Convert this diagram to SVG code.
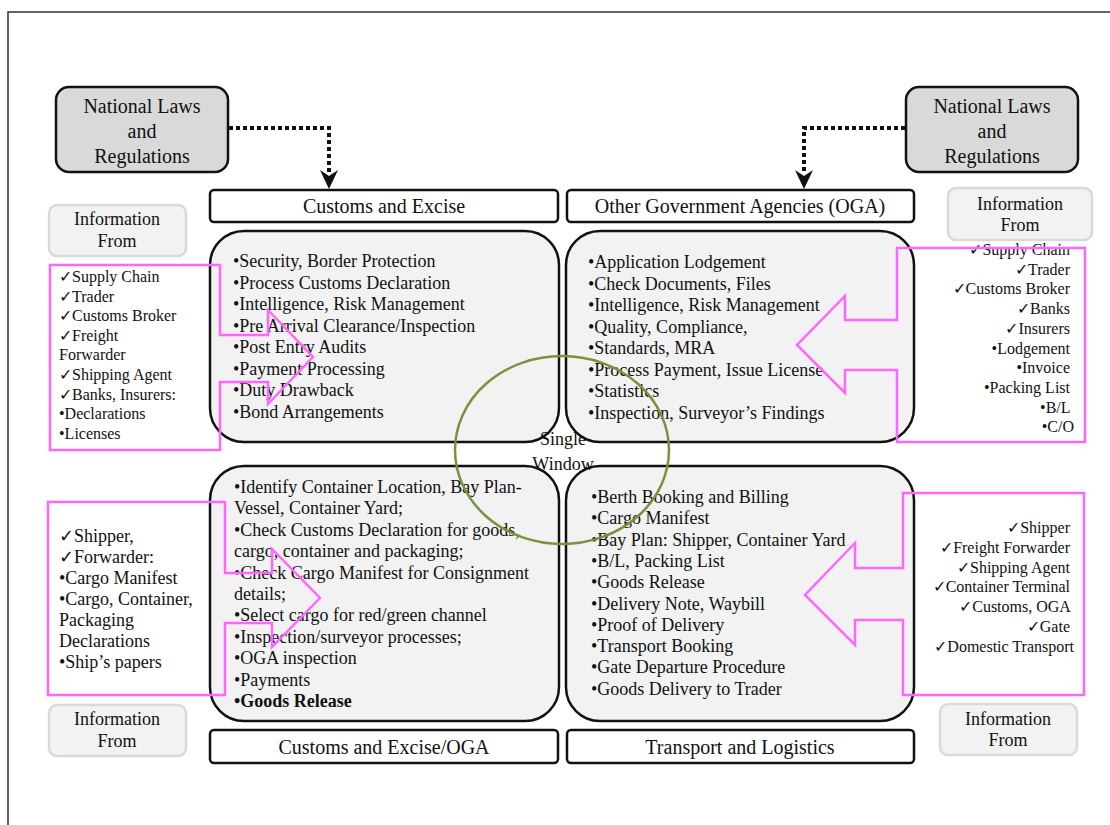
<svg xmlns="http://www.w3.org/2000/svg" width="1110" height="825" viewBox="0 0 1110 825" font-family="'Liberation Serif', 'DejaVu Serif', serif">
  <style>
    text { font-family: 'Liberation Serif', 'DejaVu Serif', serif; fill: #111; }
    .law { fill: #d9d9d9; stroke: #111; stroke-width: 2.5; }
    .head { fill: #fff; stroke: #111; stroke-width: 2.5; }
    .quad { fill: #f2f2f2; stroke: #111; stroke-width: 2.5; }
    .info { fill: #f2f2f2; stroke: #d9d9d9; stroke-width: 2.5; }
    .flow { fill: none; stroke: #ff66ff; stroke-width: 2.5; }
    .dots { fill: none; stroke: #111; stroke-width: 4; stroke-dasharray: 4 3; }
    .tip { fill: #111; }
    .t20 { font-size: 20px; text-anchor: middle; }
    .t18 { font-size: 18px; }
    .t16 { font-size: 16px; }
    .mid { text-anchor: middle; }
    .end { text-anchor: end; }
    .sw { fill: none; stroke: #77933c; stroke-width: 2.5; }
  </style>

  <!-- page frame -->
  <path d="M8,825 V12 H1110" fill="none" stroke="#333" stroke-width="1.5"/>

  <!-- laws -->
  <g id="laws-left">
    <rect class="law" x="56" y="87" width="172" height="85" rx="13"/>
    <text class="t20" x="142" y="113">National Laws</text>
    <text class="t20" x="142" y="138">and</text>
    <text class="t20" x="142" y="163">Regulations</text>
  </g>
  <g id="laws-right">
    <rect class="law" x="906" y="87" width="172" height="85" rx="13"/>
    <text class="t20" x="992" y="113">National Laws</text>
    <text class="t20" x="992" y="138">and</text>
    <text class="t20" x="992" y="163">Regulations</text>
  </g>

  <!-- headers -->
  <g id="hdr-customs">
    <rect class="head" x="210" y="190" width="348" height="32" rx="4"/>
    <text class="t20" x="384" y="213">Customs and Excise</text>
  </g>
  <g id="hdr-oga">
    <rect class="head" x="567" y="190" width="347" height="32" rx="4"/>
    <text class="t20" x="740" y="213">Other Government Agencies (OGA)</text>
  </g>
  <g id="hdr-customs-oga">
    <rect class="head" x="210" y="730" width="348" height="33" rx="4"/>
    <text class="t20" x="384" y="754">Customs and Excise/OGA</text>
  </g>
  <g id="hdr-transport">
    <rect class="head" x="567" y="730" width="347" height="33" rx="4"/>
    <text class="t20" x="740" y="754">Transport and Logistics</text>
  </g>

  <!-- information source labels -->
  <g id="info-tl">
    <rect class="info" x="49" y="205" width="137" height="51" rx="8"/>
    <text class="t18 mid" x="117" y="225">Information</text>
    <text class="t18 mid" x="117" y="247">From</text>
  </g>
  <g id="info-tr">
    <rect class="info" x="948" y="188" width="144" height="52" rx="8"/>
    <text class="t18 mid" x="1020" y="210">Information</text>
    <text class="t18 mid" x="1020" y="231">From</text>
  </g>
  <g id="info-bl">
    <rect class="info" x="49" y="705" width="137" height="51" rx="8"/>
    <text class="t18 mid" x="117" y="725">Information</text>
    <text class="t18 mid" x="117" y="747">From</text>
  </g>
  <g id="info-br">
    <rect class="info" x="940" y="704" width="137" height="51" rx="8"/>
    <text class="t18 mid" x="1008" y="725">Information</text>
    <text class="t18 mid" x="1008" y="746">From</text>
  </g>

  <!-- quadrant: customs and excise -->
  <g id="quad-customs">
    <rect class="quad" x="210" y="231" width="349" height="211" rx="34"/>
    <text class="t18">
      <tspan x="233" y="267">•Security, Border Protection</tspan>
      <tspan x="233" y="288.5">•Process Customs Declaration</tspan>
      <tspan x="233" y="310">•Intelligence, Risk Management</tspan>
      <tspan x="233" y="331.5">•Pre Arrival Clearance/Inspection</tspan>
      <tspan x="233" y="353">•Post Entry Audits</tspan>
      <tspan x="233" y="374.5">•Payment Processing</tspan>
      <tspan x="233" y="396">•Duty Drawback</tspan>
      <tspan x="233" y="417.5">•Bond Arrangements</tspan>
    </text>
  </g>

  <!-- quadrant: other government agencies -->
  <g id="quad-oga">
    <rect class="quad" x="566" y="231" width="348" height="211" rx="34"/>
    <text class="t18">
      <tspan x="588" y="268">•Application Lodgement</tspan>
      <tspan x="588" y="289.5">•Check Documents, Files</tspan>
      <tspan x="588" y="311">•Intelligence, Risk Management</tspan>
      <tspan x="588" y="332.5">•Quality, Compliance,</tspan>
      <tspan x="588" y="354">•Standards, MRA</tspan>
      <tspan x="588" y="375.5">•Process Payment, Issue License</tspan>
      <tspan x="588" y="397">•Statistics</tspan>
      <tspan x="588" y="418.5">•Inspection, Surveyor’s Findings</tspan>
    </text>
  </g>

  <!-- quadrant: customs and excise / OGA -->
  <g id="quad-customs-oga">
    <rect class="quad" x="210" y="466" width="349" height="255" rx="34"/>
    <text class="t18">
      <tspan x="234" y="493">•Identify Container Location, Bay Plan-</tspan>
      <tspan x="234" y="514.4">Vessel, Container Yard;</tspan>
      <tspan x="234" y="535.8">•Check Customs Declaration for goods,</tspan>
      <tspan x="234" y="557.2">cargo, container and packaging;</tspan>
      <tspan x="234" y="578.6">•Check Cargo Manifest for Consignment</tspan>
      <tspan x="234" y="600">details;</tspan>
      <tspan x="234" y="621.4">•Select cargo for red/green channel</tspan>
      <tspan x="234" y="642.8">•Inspection/surveyor processes;</tspan>
      <tspan x="234" y="664.2">•OGA inspection</tspan>
      <tspan x="234" y="685.6">•Payments</tspan>
      <tspan x="234" y="707" font-weight="bold">•Goods Release</tspan>
    </text>
  </g>

  <!-- quadrant: transport and logistics -->
  <g id="quad-transport">
    <rect class="quad" x="566" y="466" width="348" height="255" rx="34"/>
    <text class="t18">
      <tspan x="591" y="503">•Berth Booking and Billing</tspan>
      <tspan x="591" y="524.3">•Cargo Manifest</tspan>
      <tspan x="591" y="545.6">•Bay Plan: Shipper, Container Yard</tspan>
      <tspan x="591" y="566.9">•B/L, Packing List</tspan>
      <tspan x="591" y="588.2">•Goods Release</tspan>
      <tspan x="591" y="609.5">•Delivery Note, Waybill</tspan>
      <tspan x="591" y="630.8">•Proof of Delivery</tspan>
      <tspan x="591" y="652.1">•Transport Booking</tspan>
      <tspan x="591" y="673.4">•Gate Departure Procedure</tspan>
      <tspan x="591" y="694.7">•Goods Delivery to Trader</tspan>
    </text>
  </g>

  <!-- source lists -->
  <g id="src-tl">
    <text class="t16">
      <tspan x="59" y="282">✓Supply Chain</tspan>
      <tspan x="59" y="301.6">✓Trader</tspan>
      <tspan x="59" y="321.2">✓Customs Broker</tspan>
      <tspan x="59" y="340.8">✓Freight</tspan>
      <tspan x="59" y="360.4">Forwarder</tspan>
      <tspan x="59" y="380">✓Shipping Agent</tspan>
      <tspan x="59" y="399.6">✓Banks, Insurers:</tspan>
      <tspan x="59" y="419.2">•Declarations</tspan>
      <tspan x="59" y="438.8">•Licenses</tspan>
    </text>
  </g>
  <g id="src-tr">
    <text class="t16 end">
      <tspan x="1074" y="255">✓Supply Chain</tspan>
      <tspan x="1074" y="274.7">✓Trader</tspan>
      <tspan x="1074" y="294.4">✓Customs Broker</tspan>
      <tspan x="1074" y="314.1">✓Banks</tspan>
      <tspan x="1074" y="333.8">✓Insurers</tspan>
      <tspan x="1074" y="353.5">•Lodgement</tspan>
      <tspan x="1074" y="373.2">•Invoice</tspan>
      <tspan x="1074" y="392.9">•Packing List</tspan>
      <tspan x="1074" y="412.6">•B/L</tspan>
      <tspan x="1074" y="432.3">•C/O</tspan>
    </text>
  </g>
  <g id="src-bl">
    <text class="t18">
      <tspan x="59" y="542">✓Shipper,</tspan>
      <tspan x="59" y="563">✓Forwarder:</tspan>
      <tspan x="59" y="584">•Cargo Manifest</tspan>
      <tspan x="59" y="605">•Cargo, Container,</tspan>
      <tspan x="59" y="626">Packaging</tspan>
      <tspan x="59" y="647">Declarations</tspan>
      <tspan x="59" y="668">•Ship’s papers</tspan>
    </text>
  </g>
  <g id="src-br">
    <text class="t16 end" font-size="16.5">
      <tspan x="1074" y="533">✓Shipper</tspan>
      <tspan x="1074" y="552.8">✓Freight Forwarder</tspan>
      <tspan x="1074" y="572.6">✓Shipping Agent</tspan>
      <tspan x="1074" y="592.4">✓Container Terminal</tspan>
      <tspan x="1074" y="612.2">✓Customs, OGA</tspan>
      <tspan x="1074" y="632">✓Gate</tspan>
      <tspan x="1074" y="651.8">✓Domestic Transport</tspan>
    </text>
  </g>

  <!-- connectors -->
  <g id="connectors">
    <path class="dots" d="M229,128 H329 V174"/>
    <path class="tip" d="M320,170 L329,176 L338,170 L329,189 Z"/>
    <path class="dots" d="M905,128 H804 V174"/>
    <path class="tip" d="M795,170 L804,176 L813,170 L804,189 Z"/>
    <path class="flow" d="M50,265 H220 V335 H268 V310 L313,357 L268,404 V382 H220 V450 H50 Z"/>
    <path class="flow" d="M897,248 H1085 V442 H897 V370 H845 V393 L797,345 L845,296 V320 H897 Z"/>
    <path class="flow" d="M48,502 H225 V573 H272 V549 L320,598 L272,647 V623 H225 V695 H48 Z"/>
    <path class="flow" d="M903,493 H1084 V695 H903 V620 H855 V645 L805,595 L855,543 V568 H903 Z"/>
  </g>

  <!-- single window -->
  <g id="single-window">
    <ellipse class="sw" cx="562" cy="450" rx="107" ry="94"/>
    <text class="t18 mid" x="563" y="445" font-size="19">Single</text>
    <text class="t18 mid" x="563" y="470" font-size="19">Window</text>
  </g>
</svg>
